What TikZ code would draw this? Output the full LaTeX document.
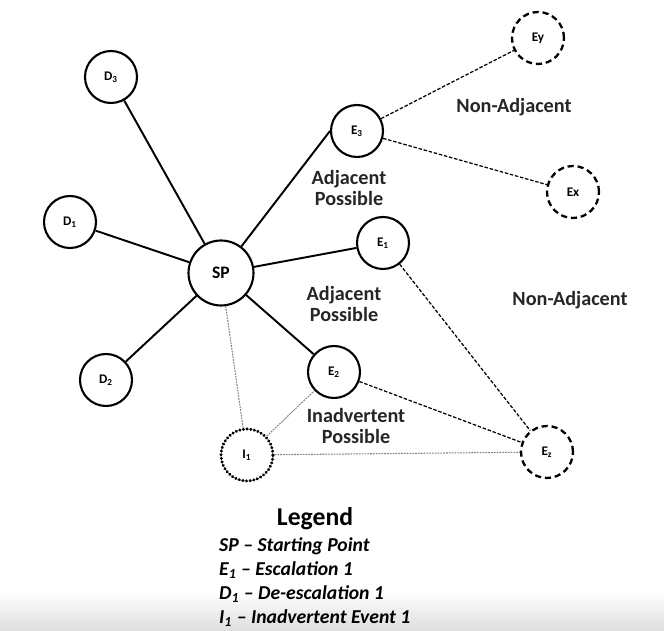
\documentclass[tikz,border=0pt]{standalone}
\usepackage{fontspec}
\setmainfont{Carlito}
\usepackage{tikz}
\usetikzlibrary{positioning}
\tikzstyle{snode} = [circle, draw, line width=1.2pt, minimum size=1.04cm, inner sep=0pt, font=\bfseries\fontsize{7.5}{8}\selectfont]
\tikzstyle{dnode} = [snode, dash pattern=on 3.5pt off 2.2pt, line width=1.3pt]
\tikzstyle{inode} = [snode, dash pattern=on 0.1pt off 2pt, line cap=round, line width=1.8pt]
\tikzstyle{line} = [draw, line width=1.1pt]
\tikzstyle{dline} = [draw, line width=0.7pt, dash pattern=on 2pt off 1pt]
\tikzstyle{tline} = [draw, line width=0.6pt, gray, dash pattern=on 1pt off 0.6pt]
\tikzstyle{region} = [font=\bfseries\fontsize{11.5}{12.5}\selectfont, align=center, text=black!85]

\begin{document}
\begin{tikzpicture}[x=0.02cm, y=-0.02cm]
			\useasboundingbox (0,0) rectangle (664,631);
			\shade [top color=white, bottom color=black!13] (0,592) rectangle (664,631);

			\node [snode, minimum size=1.3cm, font=\bfseries\fontsize{10}{11}\selectfont] (sp) at (221, 273) {SP};
			\node [snode] (d3) at (111, 77) {D\textsubscript{3}};
			\node [snode] (d1) at (70, 222) {D\textsubscript{1}};
			\node [snode] (d2) at (106, 380) {D\textsubscript{2}};
			\node [snode] (e3) at (357, 131) {E\textsubscript{3}};
			\node [snode] (e1) at (383, 243) {E\textsubscript{1}};
			\node [snode] (e2) at (334, 372) {E\textsubscript{2}};
			\node [inode] (i1) at (247, 455) {I\textsubscript{1}};
			\node [dnode] (ey) at (538, 38) {Ey};
			\node [dnode] (ex) at (573, 192) {Ex};
			\node [dnode] (ez) at (547, 452) {E\textsubscript{z}};

			\node [region] at (514, 107) {Non-Adjacent};
			\node [region] at (570, 300) {Non-Adjacent};
			\node [region] at (349, 188) {Adjacent\\Possible};
			\node [region] at (344, 304) {Adjacent\\Possible};
			\node [region] at (356, 426) {Inadvertent\\Possible};

			\path [line] (sp) -- (d3);
			\path [line] (sp) -- (d1);
			\path [line] (sp) -- (d2);
			\path [line] (sp) -- (e3.west);
			\path [line] (sp) -- (e1);
			\path [line] (sp) -- (e2);
			\path [dline] (e3) -- (ey);
			\path [dline] (e3) -- (ex);
			\path [dline] (e1) -- (ez);
			\path [dline] (e2) -- (ez);
			\path [tline] (sp) -- (i1);
			\path [tline] (i1) -- (e2);
			\path [tline] (i1) -- (ez);

			% legend
			\node [font=\bfseries\fontsize{14.6}{15}\selectfont] (legend) at (315, 519) {Legend};
			\node [anchor=west, align=left, font=\bfseries\itshape\fontsize{11.2}{13.7}\selectfont] (keys) at (213, 582)
				{SP -- Starting Point\\
				E\textsubscript{1} -- Escalation 1\\
				D\textsubscript{1} -- De-escalation 1\\
				I\textsubscript{1} -- Inadvertent Event 1};
		\end{tikzpicture}
\end{document}
